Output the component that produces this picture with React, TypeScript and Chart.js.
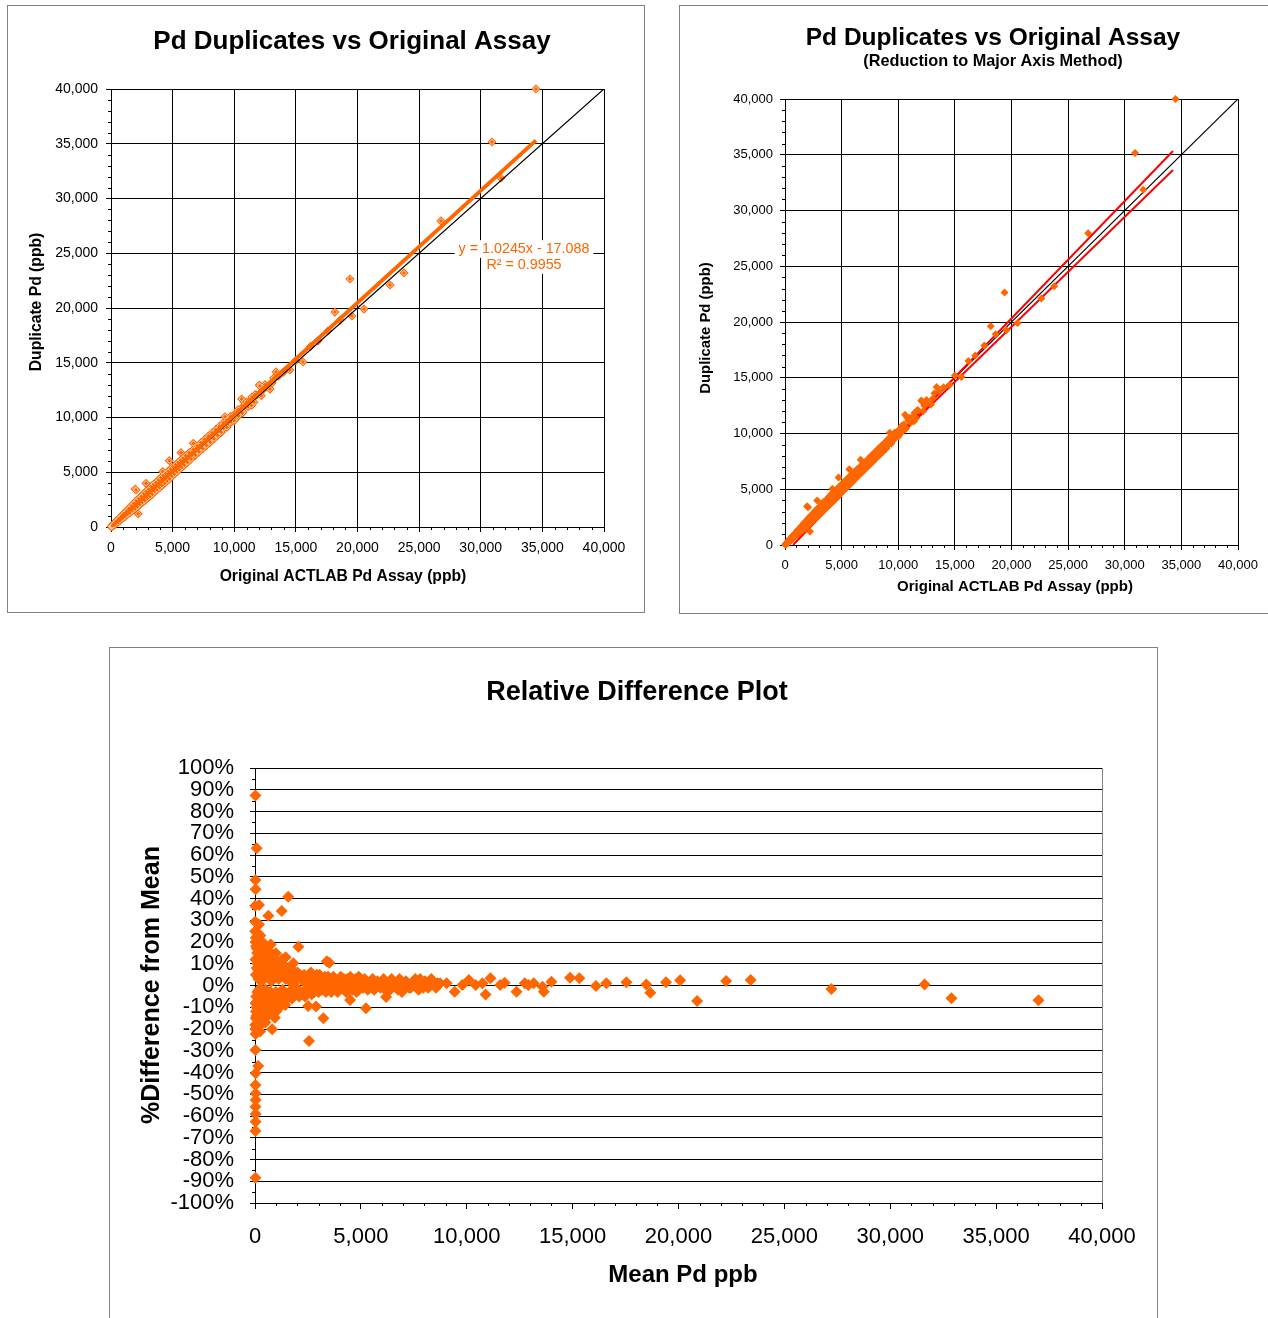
import React, { useEffect, useRef } from "react";
import { Chart, registerables } from "chart.js";
Chart.register(...registerables);

const FONT = "Arial, 'Liberation Sans', Helvetica, sans-serif";
const ORANGE = "#FF6600";

// ---------- Data: original assay vs duplicate (ppb) ----------
const origAssay = [
  20, 50, 80, 100, 130, 150, 180, 200, 230, 260, 290, 320, 350, 380, 410, 440, 470, 500, 530, 560, 600, 630, 660, 700, 740, 780, 820, 860, 900, 950, 1000,
  1050, 1100, 1150, 1200, 1250, 1300, 1350, 1400, 1450, 1500, 1550, 1600, 1650, 1700, 1750, 1800, 1850, 1900, 1950, 2030, 2000, 2050, 2100, 2150, 2200, 2200, 2250, 2300, 2350, 2400, 2450, 2500, 2550, 2600, 2650, 2700, 2750, 2840, 2800, 2850, 2900, 2950, 3000,
  3100, 3200, 3300, 3400, 3500, 3600, 3700, 3800, 3900, 4000, 4100, 4190, 4200, 4300, 4400, 4500, 4600, 4730, 4700, 4800, 4900, 5000, 5100, 5200, 5300, 5400, 5500, 5680, 5600, 5700, 5800, 5900, 6000,
  6150, 6300, 6450, 6600, 6680, 6750, 6900, 7050, 7200, 7350, 7500, 7650, 7800, 7950, 8100, 8250, 8400, 8550, 8700, 8850, 9000, 9150, 9250, 9300, 9450, 9600, 9750, 9900, 10050,
  10200, 10350, 10600, 10500, 10790, 10700, 10900, 11120, 11300, 11440, 11600, 11800, 12030, 12090, 12300, 12600, 13060, 13390, 13600, 14000, 14520, 15000, 15580, 16200, 16800, 17600, 18170, 18600, 19390, 19550, 20530, 22640, 23770, 26770, 30910, 31640, 34480,
  300, 400, 550, 650, 750, 850, 950, 1050, 1150, 1250, 1350, 1450, 1550, 1650, 1750, 1850, 1950, 2050, 2150, 2250, 2350, 2450, 2550, 2650, 2750, 2850, 2950, 3050, 3150, 3250,
  3350, 3450, 3550, 3650, 3750, 3850, 3950, 4050, 4150, 4250, 4350, 4450, 4550, 4650, 4750, 4850, 4950, 5050, 5150, 5250, 5350, 5450, 5550, 5650, 5750, 5850, 5950, 6050,
  6200, 6350, 6500, 6700, 6850, 7000, 7150, 7300, 7450, 7600, 7750, 7900, 8050, 8200, 8350, 8500, 8650, 8800, 8950, 9100, 9400, 9700, 10000, 10300, 10650, 11000, 11400, 11700,
  12200, 12500, 12900, 13200,
];
const dupAssay = [
  30, 40, 110, 90, 160, 120, 210, 260, 200, 300, 250, 380, 330, 420, 360, 520, 430, 560, 480, 640, 550, 700, 610, 780, 690, 900, 760, 950, 840, 1080, 930,
  1200, 1020, 1260, 1100, 1400, 1180, 1500, 1300, 1620, 1350, 1700, 1480, 1800, 1580, 1900, 1650, 2050, 1760, 3470, 3380, 2200, 1900, 2300, 2000, 2400, 1200, 2100, 2550, 2200, 2700, 2300, 2800, 2400, 2900, 2500, 3000, 2600, 3990, 3100, 2700, 3200, 2800, 3350,
  3000, 3550, 3150, 3700, 3350, 3900, 3550, 4100, 3700, 4250, 3900, 5050, 4450, 4150, 4650, 4350, 4850, 6055, 4550, 5050, 4750, 5250, 4950, 5450, 5150, 5650, 5350, 6790, 5850, 5550, 6050, 5750, 6300,
  6000, 6600, 6300, 6900, 7640, 6600, 7150, 6900, 7500, 7200, 7800, 7500, 8050, 7800, 8350, 8100, 8650, 8400, 8950, 8700, 9300, 9000, 10070, 9550, 9300, 9900, 9600, 10150, 9850,
  10450, 10150, 11690, 10800, 11420, 10500, 11150, 10990, 11550, 11870, 11400, 12050, 12970, 12880, 12500, 12800, 13150, 14160, 13800, 14150, 14340, 15200, 15070, 16500, 17000, 17900, 19630, 18900, 22650, 19270, 19900, 22100, 23200, 27950, 35160, 31870, 40000,
  200, 520, 420, 800, 600, 1000, 800, 1250, 950, 1450, 1150, 1700, 1300, 1950, 1500, 2150, 1650, 2400, 1850, 2600, 2050, 2800, 2250, 3050, 2400, 3250, 2650, 3450, 2800, 3700,
  3000, 3900, 3250, 4050, 3400, 4300, 3600, 4500, 3800, 4700, 4000, 4900, 4200, 5100, 4400, 5300, 4650, 5500, 4850, 5700, 5050, 5900, 5250, 6100, 5450, 6300, 5650, 6500,
  5900, 6800, 6200, 7100, 6550, 7400, 6850, 7700, 7150, 8000, 7450, 8300, 7750, 8600, 8050, 8900, 8350, 9200, 8650, 9500, 9100, 10100, 9700, 10700, 10400, 11400, 11100, 12100,
  12000, 13000, 12600, 13600,
];

// regression line (y = 1.0245x - 17.088) end points
const fitLineX = [0, 34480];
const fitLineY = [-17, 35307];
// 1:1 line
const equalX = [0, 40000];
const equalY = [0, 40000];
// reduced major axis bounds
const rmaUpperX = [708, 34260];
const rmaUpperY = [0, 35340];
const rmaLowerX = [164, 34260];
const rmaLowerY = [0, 33630];

// ---------- Data: relative difference ----------
const meanPd = [
  10, 15, 20, 25, 30, 35, 40, 45, 50, 55, 60, 70, 80, 90, 100, 110, 120, 130, 140, 150, 160, 170, 180, 190, 200, 215, 230, 245, 260, 275, 290, 305, 320, 340, 360, 380, 400, 420, 440, 460, 480, 500,
  530, 560, 590, 620, 650, 680, 710, 740, 770, 800, 830, 860, 900, 940, 980, 1020, 1060, 1100, 1140, 1180, 1220, 1260, 1300, 1350, 1400, 1450, 1500,
  1550, 1600, 1650, 1700, 1750, 1800, 1850, 1900, 1950, 2000, 2080, 2160, 2240, 2320, 2400, 2480, 2560, 2640, 2720, 2800, 2880, 2960,
  3050, 3150, 3250, 3350, 3450, 3550, 3650, 3750, 3850, 3950, 4050, 4150, 4250, 4350, 4450, 4550, 4650, 4750, 4850, 4950,
  5100, 5250, 5400, 5550, 5700, 5850, 6000, 6150, 6300, 6450, 6600, 6750, 6900, 7050, 7200, 7350, 7500, 7650, 7800, 7950, 8100, 8250, 8400, 8550,
  25, 45, 65, 85, 105, 125, 145, 165, 185, 205, 225, 250, 270, 300, 330, 350, 370, 390, 410, 430, 450, 470, 490, 510, 540, 570, 600, 640, 670, 700, 730, 760, 790, 820, 850, 880, 920, 960, 1000,
  1040, 1080, 1120, 1160, 1200, 1240, 1280, 1320, 1380, 1430, 1480, 1530, 1580, 1630, 1680, 1730, 1780, 1830, 1880, 1930, 1980, 2040, 2120, 2200, 2280, 2360, 2440, 2520, 2600, 2680, 2760, 2840, 2920,
  3000, 3100, 3200, 3300, 3400, 3500, 3600, 3700, 3800, 3900, 4000, 4100, 4200, 4300, 4400, 4500, 4600, 4700, 4800, 4900, 5000,
  5175, 5325, 5475, 5625, 5775, 5925, 6075, 6225, 6375, 6525, 6675, 6825, 6975, 7125, 7275, 7425, 7575, 7725, 7875, 8025, 8175, 8325, 8475, 8625,
  20, 80, 20, 30, 10, 190, 10, 190, 630, 1260, 1570, 2050, 740, 990, 1450, 1810, 3390, 3510, 2510, 2880, 3230, 2550, 4490, 5240, 940, 810, 30, 240, 20, 150, 30, 20, 30, 30, 20, 30, 30, 20, 20, 6190, 6940,
  8740, 9050, 9430, 9790, 10100, 10420, 10740, 10890, 11120, 11580, 11790, 12350, 12740, 12910, 13160, 13580, 13640, 14000, 14880, 15320, 16100, 16590, 17540, 18480, 18670, 19410, 20080, 20880, 22250, 23410, 27220, 31620, 32890, 37000,
];
const pctDiff = [
  25, -18, 12, -8, 20, -15, 5, -12, 18, -5, 22, -10, 8, -19, 15, -3, 10, -14, 24, -7, 3, -16, 13, -2, 19, -11, 6, -17, 11, -4, 16, -9, 2, -13, 14, -6, 9, -15, 4, -8, 12, -2,
  10, -9, 5, -12, 13, -4, 8, -10, 2, 11, -7, 6, -11, 12, -3, 7, -9, 10, -5, 4, -8, 9, -2, 6, -7, 3, -4,
  7, -5, 2, 6, -6, 4, -3, 5, -1, 6, -5, 3, -4, 5, -2, 4, -3, 6, 1, -3, 4, -1,
  5, -2, 3, -3, 4, 1, -2, 3, 0, -2, 4, 1, -1, 3, -2, 2, 0, 3, -1, 2,
  -1, 2, 0, 3, -1, 1, 2, -2, 1, 3, 0, -2, 2, 0, 1, -1, 2, 0, 3, -1, 1, 0, 2, -1,
  -20, 22, -14, 17, -9, 21, -19, 7, -13, 16, -6, 23, -18, 9, -12, 20, -3, 12, -10, 17, -14, 6, -17, 14, -6, 16, -14, 9, -8, 12, -3, 15, -12, 4, -6, 9, -8, 5, -12,
  11, -6, 3, -10, 8, -3, 12, -6, 9, -9, 5, -6, 4, -3, 8, -2, 6, -5, 2, -4, 3, -2, 5, -4, 2, -5, 3, -1, 2, -4, 3, -2, 5,
  -3, 2, -1, 4, -2, 2, -3, 4, 2, -3, 2, -1, 3, -3, 1, 4, -2, 1, -3, 4, 0,
  3, -2, 1, -2, 2, -1, 3, 0, -2, 2, 1, 3, -2, 2, -1, 1, 3, -2, 1, 2, -1, 3, 0, 1,
  87.3, 63.1, 48.5, 44.2, 36.7, 37, 29.3, 28.1, 32.1, 34.3, 40.8, 17.8, 18.9, 14.8, 13, 10.2, 11.1, 10.5, -9.4, -9.7, -15.1, -25.5, -6.7, -10.5, -14.8, -20.1, -22.3, -21.2, -29.7, -37, -40.4, -45.7, -49.6, -52.6, -55.7, -59.1, -62.6, -66.9, -88.4, -5.3, -3,
  1, 1, -2.9, 0.2, 2.5, 0.2, 1, -4.1, 3.3, 0.2, 1.3, -2.9, 1, 0.2, 1, -0.6, -2.9, 1.7, 3.6, 3.3, -0.2, 1, 1.5, 0.5, -3.3, 1.5, 2.4, -7.1, 2.1, 2.5, -1.6, 0.5, -5.9, -6.8,
];

const zip = (xs: number[], ys: number[]) => xs.map((x, i) => ({ x, y: ys[i] }));
const fmt = (v: any) => Number(v).toLocaleString("en-US");

type TextItem = { text: string; x: number; y: number; size: number; bold?: boolean; color?: string; rotate?: boolean; bg?: boolean };

function textPlugin(items: TextItem[]) {
  return {
    id: "texts",
    afterDraw(chart: any) {
      const ctx = chart.ctx;
      items.forEach((it) => {
        if (!it.bg) return;
        ctx.save();
        ctx.font = `${it.bold ? "bold " : ""}${it.size}px ${FONT}`;
        const w = ctx.measureText(it.text).width;
        ctx.fillStyle = "#fff";
        ctx.fillRect(it.x - w / 2 - 4, it.y - it.size * 0.62, w + 8, it.size * 1.24);
        ctx.restore();
      });
      items.forEach((it) => {
        ctx.save();
        ctx.font = `${it.bold ? "bold " : ""}${it.size}px ${FONT}`;
        ctx.fillStyle = it.color || "#000";
        ctx.textAlign = "center";
        ctx.textBaseline = "middle";
        ctx.translate(it.x, it.y);
        if (it.rotate) ctx.rotate(-Math.PI / 2);
        ctx.fillText(it.text, 0, 0);
        ctx.restore();
      });
    },
  };
}

function minorTicksPlugin(xStep: number, xMajor: number, yStep: number, yMajor: number, len: number, rightEdge?: string) {
  return {
    id: "minorTicks",
    beforeDatasetsDraw(chart: any) {
      const { ctx, chartArea } = chart;
      const xs = chart.scales.x;
      const ys = chart.scales.y;
      ctx.save();
      ctx.strokeStyle = "#000";
      ctx.lineWidth = 1;
      ctx.beginPath();
      const nx = Math.round((xs.max - xs.min) / xStep);
      for (let i = 0; i <= nx; i++) {
        const v = xs.min + i * xStep;
        if (Math.abs(v % xMajor) < 1e-6) continue;
        const px = Math.round(xs.getPixelForValue(v)) + 0.5;
        ctx.moveTo(px, chartArea.bottom);
        ctx.lineTo(px, chartArea.bottom + len);
      }
      const ny = Math.round((ys.max - ys.min) / yStep);
      for (let i = 0; i <= ny; i++) {
        const v = ys.min + i * yStep;
        if (Math.abs(v % yMajor) < 1e-6) continue;
        const py = Math.round(ys.getPixelForValue(v)) + 0.5;
        ctx.moveTo(chartArea.left, py);
        ctx.lineTo(chartArea.left - len, py);
      }
      ctx.stroke();
      if (rightEdge) {
        ctx.strokeStyle = rightEdge;
        ctx.beginPath();
        const rx = Math.round(chartArea.right) + 0.5;
        ctx.moveTo(rx, chartArea.top);
        ctx.lineTo(rx, chartArea.bottom);
        ctx.stroke();
      }
      ctx.restore();
    },
  };
}

function geomScales(W: number, H: number, L: number, B: number) {
  return {
    xFit: (s: any) => {
      s.height = H - B;
    },
    yFit: (s: any) => {
      s.width = L;
    },
  };
}

function linearAxis(opts: any) {
  const { min, max, step, fontSize, padding, fit, callback, gridColor, tickLen } = opts;
  return {
    type: "linear",
    min,
    max,
    afterFit: fit,
    ticks: {
      stepSize: step,
      color: "#000",
      font: { family: FONT, size: fontSize },
      padding,
      maxRotation: 0,
      autoSkip: false,
      callback,
    },
    grid: {
      color: gridColor ?? "#000",
      tickColor: "#000",
      lineWidth: 1,
      tickLength: tickLen ?? 5,
      drawTicks: true,
    },
    border: { display: true, color: "#000", width: 1 },
  };
}

function Chart1() {
  const ref = useRef<HTMLCanvasElement>(null);
  useEffect(() => {
    const W = 636, H = 606, L = 103, T = 83, R = 596, B = 521;
    const g = geomScales(W, H, L, B);
    const pts = zip(origAssay, dupAssay);
    const chart = new Chart(ref.current!, {
      type: "scatter",
      data: {
        datasets: [
          { data: zip(fitLineX, fitLineY), showLine: true, borderColor: ORANGE, borderWidth: 4, pointRadius: 0, order: 0 },
          { data: zip(equalX, equalY), showLine: true, borderColor: "#000", borderWidth: 1.3, pointRadius: 0, order: 1 },
          { data: pts, pointStyle: "rectRot", pointRadius: 2.6, backgroundColor: ORANGE, borderColor: "#FFE3CF", borderWidth: 0.9, order: 2, clip: false },
          { data: pts, pointStyle: "rectRot", pointRadius: 4.6, backgroundColor: ORANGE, borderColor: ORANGE, borderWidth: 0, order: 3, clip: false },
        ],
      },
      options: {
        responsive: false,
        animation: false,
        layout: { padding: { left: 0, top: T, right: W - R, bottom: 0 } },
        plugins: { legend: { display: false }, tooltip: { enabled: false } },
        scales: {
          x: linearAxis({ min: 0, max: 40000, step: 5000, fontSize: 14, padding: 8, fit: g.xFit, callback: fmt }),
          y: linearAxis({ min: 0, max: 40000, step: 5000, fontSize: 14, padding: 8, fit: g.yFit, callback: fmt }),
        } as any,
      },
      plugins: [
        minorTicksPlugin(1000, 5000, 1000, 5000, 3),
        textPlugin([
          { text: "Pd Duplicates vs Original Assay", x: 344, y: 36, size: 26, bold: true },
          { text: "Original ACTLAB Pd Assay (ppb)", x: 335, y: 571, size: 15.7, bold: true },
          { text: "Duplicate Pd (ppb)", x: 29, y: 296, size: 15.7, bold: true, rotate: true },
          { text: "y = 1.0245x - 17.088", x: 516, y: 243, size: 14.3, color: ORANGE, bg: true },
          { text: "R² = 0.9955", x: 516, y: 259, size: 14.3, color: ORANGE, bg: true },
        ]),
      ],
    } as any);
    return () => chart.destroy();
  }, []);
  return <canvas ref={ref} width={636} height={606} style={{ display: "block" }} />;
}

function Chart2() {
  const ref = useRef<HTMLCanvasElement>(null);
  useEffect(() => {
    const W = 588, H = 607, L = 105, T = 93, R = 558, B = 539;
    const g = geomScales(W, H, L, B);
    const chart = new Chart(ref.current!, {
      type: "scatter",
      data: {
        datasets: [
          { data: zip(origAssay, dupAssay), pointStyle: "rectRot", pointRadius: 4, backgroundColor: ORANGE, borderColor: ORANGE, borderWidth: 0, order: 0, clip: false },
          { data: zip(rmaUpperX, rmaUpperY), showLine: true, borderColor: "#FF0000", borderWidth: 2, pointRadius: 0, order: 1 },
          { data: zip(rmaLowerX, rmaLowerY), showLine: true, borderColor: "#FF0000", borderWidth: 2, pointRadius: 0, order: 2 },
          { data: zip(equalX, equalY), showLine: true, borderColor: "#000", borderWidth: 1.2, pointRadius: 0, order: 3 },
        ],
      },
      options: {
        responsive: false,
        animation: false,
        layout: { padding: { left: 0, top: T, right: W - R, bottom: 0 } },
        plugins: { legend: { display: false }, tooltip: { enabled: false } },
        scales: {
          x: linearAxis({ min: 0, max: 40000, step: 5000, fontSize: 13, padding: 8, fit: g.xFit, callback: fmt }),
          y: linearAxis({ min: 0, max: 40000, step: 5000, fontSize: 13, padding: 7, fit: g.yFit, callback: fmt }),
        } as any,
      },
      plugins: [
        minorTicksPlugin(1000, 5000, 1000, 5000, 3),
        textPlugin([
          { text: "Pd Duplicates vs Original Assay", x: 313, y: 32, size: 24.5, bold: true },
          { text: "(Reduction to Major Axis Method)", x: 313, y: 56, size: 16.3, bold: true },
          { text: "Original ACTLAB Pd Assay (ppb)", x: 335, y: 581, size: 15, bold: true },
          { text: "Duplicate Pd (ppb)", x: 26, y: 322, size: 14.9, bold: true, rotate: true },
        ]),
      ],
    } as any);
    return () => chart.destroy();
  }, []);
  return <canvas ref={ref} width={588} height={607} style={{ display: "block" }} />;
}

function Chart3() {
  const ref = useRef<HTMLCanvasElement>(null);
  useEffect(() => {
    const W = 1047, H = 670, L = 145, T = 120, R = 992, B = 555;
    const g = geomScales(W, H, L, B);
    const chart = new Chart(ref.current!, {
      type: "scatter",
      data: {
        datasets: [
          {
            data: zip(meanPd, pctDiff),
            pointStyle: "rectRot",
            pointRadius: 6,
            backgroundColor: ORANGE,
            borderColor: ORANGE,
            borderWidth: 0,
            clip: false,
          },
        ],
      },
      options: {
        responsive: false,
        animation: false,
        layout: { padding: { left: 0, top: T, right: W - R, bottom: 0 } },
        plugins: { legend: { display: false }, tooltip: { enabled: false } },
        scales: {
          x: linearAxis({
            min: 0, max: 40000, step: 5000, fontSize: 22, padding: 15, fit: g.xFit, callback: fmt,
            gridColor: "rgba(0,0,0,0)", tickLen: 6,
          }),
          y: linearAxis({
            min: -100, max: 100, step: 10, fontSize: 22, padding: 16, fit: g.yFit,
            callback: (v: any) => `${v}%`, tickLen: 5,
          }),
        } as any,
      },
      plugins: [
        minorTicksPlugin(1000, 5000, 5, 10, 3, "#808080"),
        textPlugin([
          { text: "Relative Difference Plot", x: 527, y: 45, size: 27, bold: true },
          { text: "Mean Pd ppb", x: 573, y: 627, size: 24, bold: true },
          { text: "%Difference from Mean", x: 42, y: 337, size: 25, bold: true, rotate: true },
        ]),
      ],
    } as any);
    return () => chart.destroy();
  }, []);
  return <canvas ref={ref} width={1047} height={670} style={{ display: "block" }} />;
}

export default function App() {
  return (
    <div style={{ position: "absolute", left: 0, top: 0, width: 1268, height: 1318, overflow: "hidden", background: "#fff" }}>
      <div style={{ position: "absolute", left: 7, top: 5, width: 638, height: 608, border: "1px solid #808080", boxSizing: "border-box" }}>
        <Chart1 />
      </div>
      <div style={{ position: "absolute", left: 679, top: 5, width: 589, height: 609, border: "1px solid #808080", borderRight: "none", boxSizing: "border-box" }}>
        <Chart2 />
      </div>
      <div style={{ position: "absolute", left: 109, top: 647, width: 1049, height: 680, border: "1px solid #808080", boxSizing: "border-box" }}>
        <Chart3 />
      </div>
    </div>
  );
}
